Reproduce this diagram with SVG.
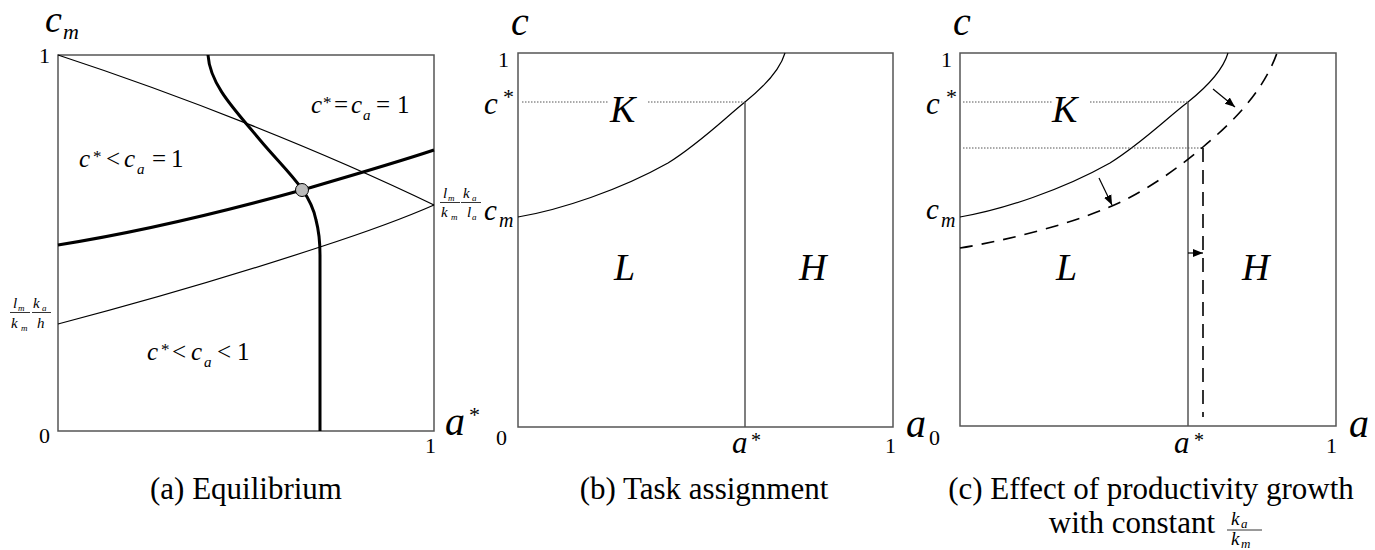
<svg xmlns="http://www.w3.org/2000/svg" width="1375" height="550" viewBox="0 0 1375 550">
<defs>
<marker id="ah" viewBox="0 0 10 10" refX="10" refY="5" markerWidth="10" markerHeight="10" markerUnits="userSpaceOnUse" orient="auto">
<path d="M0,1 L10,5 L0,9 Z" fill="#000"/>
</marker>
</defs>
<rect width="1375" height="550" fill="#fff"/>

<g id="panel-a">
<rect x="58" y="55" width="376" height="376" fill="none" stroke="#555" stroke-width="1.5"/>
<g id="curves-a" fill="none" stroke="#000">
<path stroke-width="1.2" d="M58,55 C180,95 320,150 434,205"/>
<path stroke-width="1.2" d="M58,324 C150,300 250,270 320,247 C360,234 400,220 434,205"/>
<path stroke-width="3" d="M58,245 C140,232 230,210 302,190 C350,176 395,163 434,150"/>
<path stroke-width="3" d="M208,55 C210,85 235,110 260,140 C285,170 310,190 316,220 C320,235 320,245 320,255 L320,431"/>
<circle cx="302" cy="190" r="6.5" fill="#bbb" stroke-width="1"/>
</g>
<text font-family="Liberation Serif" font-style="italic" x="45" y="32" font-size="38">c</text>
<text font-family="Liberation Serif" font-style="italic" x="63" y="39" font-size="22">m</text>
<text font-family="Liberation Serif" x="39" y="63" font-size="22">1</text>
<text font-family="Liberation Serif" x="39" y="443" font-size="22">0</text>
<text font-family="Liberation Serif" x="425" y="453" font-size="22">1</text>
<text font-family="Liberation Serif" font-style="italic" x="445" y="435" font-size="40">a</text>
<text font-family="Liberation Serif" x="469" y="422" font-size="22">*</text>
<g id="label-eq">
<text font-family="Liberation Serif" font-style="italic" x="311" y="113" font-size="25">c</text>
<text font-family="Liberation Serif" x="323" y="108" font-size="17">*</text>
<text font-family="Liberation Serif" x="334" y="113" font-size="25">=</text>
<text font-family="Liberation Serif" font-style="italic" x="351" y="113" font-size="25">c</text>
<text font-family="Liberation Serif" font-style="italic" x="363" y="120" font-size="15">a</text>
<text font-family="Liberation Serif" x="376" y="113" font-size="25">=</text>
<text font-family="Liberation Serif" x="397" y="113" font-size="25">1</text>
</g>
<g id="label-lt-eq">
<text font-family="Liberation Serif" font-style="italic" x="79" y="167" font-size="25">c</text>
<text font-family="Liberation Serif" x="93" y="162" font-size="17">*</text>
<text font-family="Liberation Serif" x="106" y="167" font-size="25">&lt;</text>
<text font-family="Liberation Serif" font-style="italic" x="124" y="167" font-size="25">c</text>
<text font-family="Liberation Serif" font-style="italic" x="137" y="174" font-size="15">a</text>
<text font-family="Liberation Serif" x="152" y="167" font-size="25">=</text>
<text font-family="Liberation Serif" x="171" y="167" font-size="25">1</text>
</g>
<g id="label-lt-lt">
<text font-family="Liberation Serif" font-style="italic" x="147" y="360" font-size="25">c</text>
<text font-family="Liberation Serif" x="161" y="355" font-size="17">*</text>
<text font-family="Liberation Serif" x="172" y="360" font-size="25">&lt;</text>
<text font-family="Liberation Serif" font-style="italic" x="191" y="360" font-size="25">c</text>
<text font-family="Liberation Serif" font-style="italic" x="204" y="367" font-size="15">a</text>
<text font-family="Liberation Serif" x="217" y="360" font-size="25">&lt;</text>
<text font-family="Liberation Serif" x="237" y="360" font-size="25">1</text>
</g>
<g id="frac-left">
<text font-family="Liberation Serif" font-style="italic" x="13" y="308" font-size="15">l</text>
<text font-family="Liberation Serif" font-style="italic" x="18" y="311" font-size="9">m</text>
<line x1="10" y1="312.5" x2="30" y2="312.5" stroke="#000" stroke-width="0.8"/>
<text font-family="Liberation Serif" font-style="italic" x="11" y="328" font-size="15">k</text>
<text font-family="Liberation Serif" font-style="italic" x="21" y="331" font-size="9">m</text>
<text font-family="Liberation Serif" font-style="italic" x="33" y="308" font-size="15">k</text>
<text font-family="Liberation Serif" font-style="italic" x="42" y="311" font-size="9">a</text>
<line x1="32" y1="312.5" x2="51" y2="312.5" stroke="#000" stroke-width="0.8"/>
<text font-family="Liberation Serif" font-style="italic" x="37" y="328" font-size="15">h</text>
</g>
<g id="frac-right">
<text font-family="Liberation Serif" font-style="italic" x="443" y="198" font-size="15">l</text>
<text font-family="Liberation Serif" font-style="italic" x="448" y="201" font-size="9">m</text>
<line x1="440" y1="202.5" x2="460" y2="202.5" stroke="#000" stroke-width="0.8"/>
<text font-family="Liberation Serif" font-style="italic" x="441" y="217" font-size="15">k</text>
<text font-family="Liberation Serif" font-style="italic" x="451" y="220" font-size="9">m</text>
<text font-family="Liberation Serif" font-style="italic" x="463" y="198" font-size="15">k</text>
<text font-family="Liberation Serif" font-style="italic" x="472" y="201" font-size="9">a</text>
<line x1="461" y1="202.5" x2="481" y2="202.5" stroke="#000" stroke-width="0.8"/>
<text font-family="Liberation Serif" font-style="italic" x="467" y="217" font-size="15">l</text>
<text font-family="Liberation Serif" font-style="italic" x="472" y="220" font-size="9">a</text>
</g>
</g>

<g id="panel-b">
<rect x="518" y="53" width="375" height="374" fill="none" stroke="#555" stroke-width="1.5"/>
<g id="curves-b" fill="none">
<path stroke="#000" stroke-width="1.2" d="M518,217 C560,210 620,190 668,163 C700,143 725,118 745,102 C765,86 780,70 785,53"/>
<line x1="745" y1="102" x2="745" y2="427" stroke="#555" stroke-width="1.5"/>
<line x1="522" y1="102" x2="608" y2="102" stroke="#555" stroke-width="1" stroke-dasharray="1.5 1.5"/>
<line x1="648" y1="102" x2="745" y2="102" stroke="#555" stroke-width="1" stroke-dasharray="1.5 1.5"/>
</g>
<text font-family="Liberation Serif" font-style="italic" x="511" y="35" font-size="40">c</text>
<text font-family="Liberation Serif" x="498" y="67" font-size="22">1</text>
<text font-family="Liberation Serif" font-style="italic" x="484" y="114" font-size="31">c</text>
<text font-family="Liberation Serif" x="503" y="104" font-size="22">*</text>
<text font-family="Liberation Serif" font-style="italic" x="484" y="220" font-size="29">c</text>
<text font-family="Liberation Serif" font-style="italic" x="499" y="227" font-size="20">m</text>
<text font-family="Liberation Serif" font-style="italic" x="610" y="122" font-size="38">K</text>
<text font-family="Liberation Serif" font-style="italic" x="614" y="280" font-size="38">L</text>
<text font-family="Liberation Serif" font-style="italic" x="799" y="280" font-size="38">H</text>
<text font-family="Liberation Serif" x="496" y="445" font-size="22">0</text>
<text font-family="Liberation Serif" font-style="italic" x="732" y="453" font-size="31">a</text>
<text font-family="Liberation Serif" x="751" y="447" font-size="20">*</text>
<text font-family="Liberation Serif" x="885" y="453" font-size="22">1</text>
<text font-family="Liberation Serif" font-style="italic" x="906" y="437" font-size="40">a</text>
</g>

<g id="panel-c">
<rect x="960" y="53" width="376" height="373" fill="none" stroke="#555" stroke-width="1.5"/>
<g id="curves-c" fill="none">
<path stroke="#000" stroke-width="1.2" d="M960,217 C1002,210 1062,190 1110,163 C1142,143 1167,118 1188,102 C1208,86 1223,70 1228,53"/>
<line x1="1188" y1="102" x2="1188" y2="426" stroke="#555" stroke-width="1.5"/>
<line x1="963" y1="102" x2="1052" y2="102" stroke="#555" stroke-width="1" stroke-dasharray="1.5 1.5"/>
<line x1="1090" y1="102" x2="1188" y2="102" stroke="#555" stroke-width="1" stroke-dasharray="1.5 1.5"/>
<line x1="963" y1="148" x2="1203" y2="148" stroke="#555" stroke-width="1" stroke-dasharray="1.5 1.5"/>
<path stroke="#000" stroke-width="1.6" stroke-dasharray="13 9" d="M960,248 C1010,240 1080,222 1125,200 C1160,182 1185,162 1203,147 C1228,126 1262,95 1277,53"/>
<path stroke="#000" stroke-width="1.6" stroke-dasharray="14 8" d="M1203,148 L1203,417"/>
<line x1="1213" y1="89" x2="1235" y2="107" stroke="#000" stroke-width="1.2" marker-end="url(#ah)"/>
<line x1="1099" y1="178" x2="1112" y2="205" stroke="#000" stroke-width="1.2" marker-end="url(#ah)"/>
<line x1="1188" y1="253" x2="1203" y2="253" stroke="#000" stroke-width="1.2" marker-end="url(#ah)"/>
</g>
<text font-family="Liberation Serif" font-style="italic" x="953" y="35" font-size="40">c</text>
<text font-family="Liberation Serif" x="941" y="67" font-size="22">1</text>
<text font-family="Liberation Serif" font-style="italic" x="926" y="114" font-size="31">c</text>
<text font-family="Liberation Serif" x="946" y="104" font-size="22">*</text>
<text font-family="Liberation Serif" font-style="italic" x="926" y="219" font-size="29">c</text>
<text font-family="Liberation Serif" font-style="italic" x="941" y="227" font-size="20">m</text>
<text font-family="Liberation Serif" font-style="italic" x="1052" y="122" font-size="38">K</text>
<text font-family="Liberation Serif" font-style="italic" x="1056" y="280" font-size="38">L</text>
<text font-family="Liberation Serif" font-style="italic" x="1242" y="280" font-size="38">H</text>
<text font-family="Liberation Serif" x="929" y="445" font-size="22">0</text>
<text font-family="Liberation Serif" font-style="italic" x="1174" y="453" font-size="31">a</text>
<text font-family="Liberation Serif" x="1194" y="447" font-size="20">*</text>
<text font-family="Liberation Serif" x="1326" y="453" font-size="22">1</text>
<text font-family="Liberation Serif" font-style="italic" x="1349" y="437" font-size="40">a</text>
</g>

<g id="captions">
<text font-family="Liberation Serif" x="246" y="499" font-size="31" text-anchor="middle">(a) Equilibrium</text>
<text font-family="Liberation Serif" x="704" y="499" font-size="31" text-anchor="middle">(b) Task assignment</text>
<text font-family="Liberation Serif" x="1151" y="499" font-size="31" text-anchor="middle">(c) Effect of productivity growth</text>
<text font-family="Liberation Serif" x="1215" y="533" font-size="31" text-anchor="end">with constant</text>
<text font-family="Liberation Serif" font-style="italic" x="1231" y="525" font-size="19">k</text>
<text font-family="Liberation Serif" font-style="italic" x="1241" y="528" font-size="13">a</text>
<line x1="1227" y1="530" x2="1262" y2="530" stroke="#000" stroke-width="0.8"/>
<text font-family="Liberation Serif" font-style="italic" x="1231" y="545" font-size="19">k</text>
<text font-family="Liberation Serif" font-style="italic" x="1241" y="548" font-size="13">m</text>
</g>
</svg>
